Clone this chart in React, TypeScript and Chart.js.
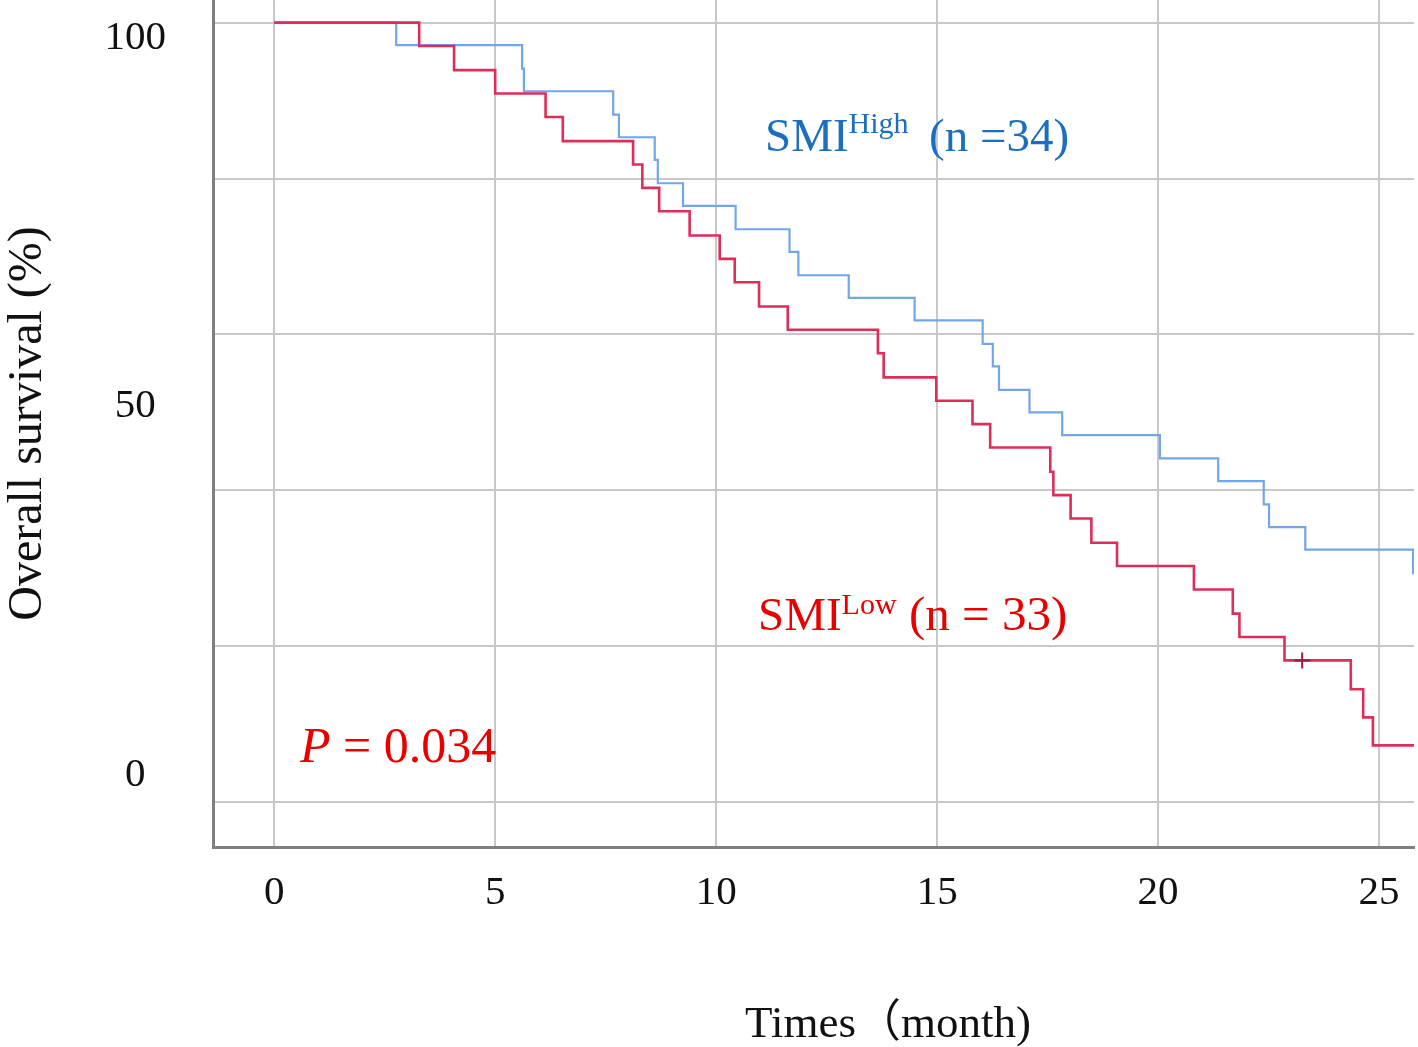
import React, { useEffect, useRef } from "react";
import { Chart, registerables } from "chart.js";

Chart.register(...registerables);

// ---- data ----
const blueTimes = [0, 2.76, 5.61, 5.65, 7.67, 7.8, 8.61, 8.68, 9.25, 10.44, 11.66, 11.86, 13.0, 14.49, 16.03, 16.26, 16.4, 17.09, 17.83, 20.04, 21.36, 22.39, 22.51, 23.33, 25.77, 26.5];
const blueSurvival = [100, 97.1, 94.1, 91.2, 88.2, 85.3, 82.4, 79.4, 76.5, 73.5, 70.6, 67.6, 64.7, 61.8, 58.8, 55.9, 52.9, 50.0, 47.1, 44.1, 41.2, 38.2, 35.3, 32.4, 29.4, 29.4];

const redTimes = [0, 3.28, 4.07, 5.0, 6.14, 6.53, 8.12, 8.33, 8.71, 9.4, 10.08, 10.42, 10.97, 11.62, 13.66, 13.79, 14.98, 15.8, 16.2, 17.56, 17.63, 18.02, 18.49, 19.07, 20.81, 21.69, 21.84, 22.86, 24.36, 24.64, 24.86, 26.5];
const redSurvival = [100, 97.0, 93.9, 90.9, 87.9, 84.8, 81.8, 78.8, 75.8, 72.7, 69.7, 66.7, 63.6, 60.6, 57.6, 54.5, 51.5, 48.5, 45.5, 42.4, 39.4, 36.4, 33.3, 30.3, 27.3, 24.2, 21.2, 18.2, 14.5, 10.9, 7.3, 7.3];

const redCensorTimes = [23.26];
const redCensorSurvival = [18.2];

const xTickValues = [0, 5, 10, 15, 20, 25];
const yGridValues = [0, 20, 40, 60, 80, 100];
const yLabelValues = [0, 50, 100];
const yTickLabels = ["0", "50", "100"];

const highLabel = { main: "SMI", sup: "High", rest: "(n =34)" };
const lowLabel = { main: "SMI", sup: "Low", rest: "(n = 33)" };
const pLabel = { p: "P", rest: " = 0.034" };
const xTitle = "Times\uFF08month)";
const yTitle = "Overall survival (%)";

// ---- styles ----
const SERIF = '"Liberation Serif", "Times New Roman", "Noto Sans CJK JP", serif';
const BLUE_LINE = "rgb(115,166,232)";
const RED_LINE = "rgb(220,46,88)";
const BLUE_TEXT = "rgb(28,110,190)";
const RED_TEXT = "rgb(232,0,0)";
const GRID = "#c8c8c8";
const BORDER = "#7f7f7f";

const toPoints = (xs: number[], ys: number[]) => xs.map((x, i) => ({ x, y: ys[i] }));

type Part = { text: string; font: string; dy?: number; x?: number };

const textPlugin = {
  id: "kmText",
  afterDraw(chart: any) {
    const ctx: CanvasRenderingContext2D = chart.ctx;
    ctx.save();
    ctx.textAlign = "left";
    ctx.textBaseline = "alphabetic";
    const run = (parts: Part[], x: number, y: number, color: string) => {
      let cx = x;
      ctx.fillStyle = color;
      for (const p of parts) {
        if (p.x !== undefined) cx = p.x;
        ctx.font = p.font;
        ctx.fillText(p.text, cx, y + (p.dy || 0));
        cx += ctx.measureText(p.text).width;
      }
    };
    run(
      [
        { text: highLabel.main, font: `47px ${SERIF}` },
        { text: highLabel.sup, font: `30px ${SERIF}`, dy: -18 },
        { text: highLabel.rest, font: `47px ${SERIF}`, x: 929 },
      ],
      765,
      151,
      BLUE_TEXT
    );
    run(
      [
        { text: lowLabel.main, font: `47px ${SERIF}` },
        { text: lowLabel.sup, font: `30px ${SERIF}`, dy: -16 },
        { text: lowLabel.rest, font: `49px ${SERIF}`, x: 909 },
      ],
      758,
      630,
      RED_TEXT
    );
    run(
      [
        { text: pLabel.p, font: `italic 50px ${SERIF}` },
        { text: pLabel.rest, font: `50px ${SERIF}` },
      ],
      300,
      762,
      RED_TEXT
    );
    run([{ text: xTitle, font: `45px ${SERIF}` }], 745, 1037, "#111");
    ctx.restore();
  },
};

export default function App() {
  const ref = useRef<HTMLCanvasElement | null>(null);
  useEffect(() => {
    if (!ref.current) return;
    const chart = new Chart(ref.current, {
      type: "line",
      data: {
        datasets: [
          {
            label: "censor",
            type: "scatter",
            data: toPoints(redCensorTimes, redCensorSurvival),
            pointStyle: "cross",
            pointRadius: 8,
            borderColor: "rgb(150,30,60)",
            backgroundColor: "rgb(150,30,60)",
            pointBorderWidth: 2,
            order: 0,
          } as any,
          {
            label: "SMI Low",
            data: toPoints(redTimes, redSurvival),
            stepped: true,
            borderColor: RED_LINE,
            borderWidth: 2.6,
            pointRadius: 0,
            fill: false,
            order: 1,
          },
          {
            label: "SMI High",
            data: toPoints(blueTimes, blueSurvival),
            stepped: true,
            borderColor: BLUE_LINE,
            borderWidth: 2.2,
            pointRadius: 0,
            fill: false,
            order: 2,
          },
        ],
      },
      options: {
        animation: false,
        responsive: false,
        devicePixelRatio: 1,
        layout: { autoPadding: false, padding: { left: 0, right: 4, top: 0, bottom: 0 } },
        plugins: { legend: { display: false }, tooltip: { enabled: false } },
        scales: {
          x: {
            type: "linear",
            min: -1.385,
            max: 25.79,
            afterBuildTicks: (s: any) => {
              s.ticks = xTickValues.map((v) => ({ value: v }));
            },
            afterFit: (s: any) => {
              s.height = 200;
              s.paddingLeft = 0;
              s.paddingRight = 0;
            },
            grid: { color: GRID, lineWidth: 2, drawTicks: false },
            border: { display: true, color: BORDER, width: 3 },
            ticks: {
              color: "#111",
              font: { family: SERIF, size: 41 },
              padding: 22,
              maxRotation: 0,
              autoSkip: false,
            },
          },
          y: {
            type: "linear",
            position: "left",
            weight: 0,
            min: -5.73,
            max: 102.9,
            afterBuildTicks: (s: any) => {
              s.ticks = yGridValues.map((v) => ({ value: v }));
            },
            afterFit: (s: any) => {
              s.width = 0;
              s.paddingTop = 0;
              s.paddingBottom = 0;
            },
            grid: { color: GRID, lineWidth: 2, drawTicks: false },
            border: { display: true, color: BORDER, width: 3 },
            ticks: { display: false },
          },
          yl: {
            type: "linear",
            position: "left",
            weight: 1,
            min: -9.73,
            max: 105.16,
            afterBuildTicks: (s: any) => {
              s.ticks = yLabelValues.map((v) => ({ value: v }));
            },
            afterFit: (s: any) => {
              s.width = 213;
              s.paddingTop = 0;
              s.paddingBottom = 0;
            },
            grid: { display: false, drawTicks: false },
            border: { display: false },
            ticks: {
              color: "#111",
              font: { family: SERIF, size: 41 },
              crossAlign: "center",
              padding: 47,
              autoSkip: false,
              callback: (v: any) => {
                const i = yLabelValues.indexOf(Number(v));
                return i >= 0 ? yTickLabels[i] : "";
              },
            },
            title: {
              display: true,
              text: yTitle,
              color: "#111",
              font: { family: SERIF, size: 48 },
              padding: { top: 0, bottom: 0 },
            },
          },
        },
      } as any,
      plugins: [textPlugin],
    });
    return () => chart.destroy();
  }, []);
  return (
    <div style={{ position: "absolute", left: 0, top: 0, width: 1418, height: 1047, background: "#fff" }}>
      <canvas ref={ref} width={1418} height={1047} style={{ display: "block" }} />
    </div>
  );
}
